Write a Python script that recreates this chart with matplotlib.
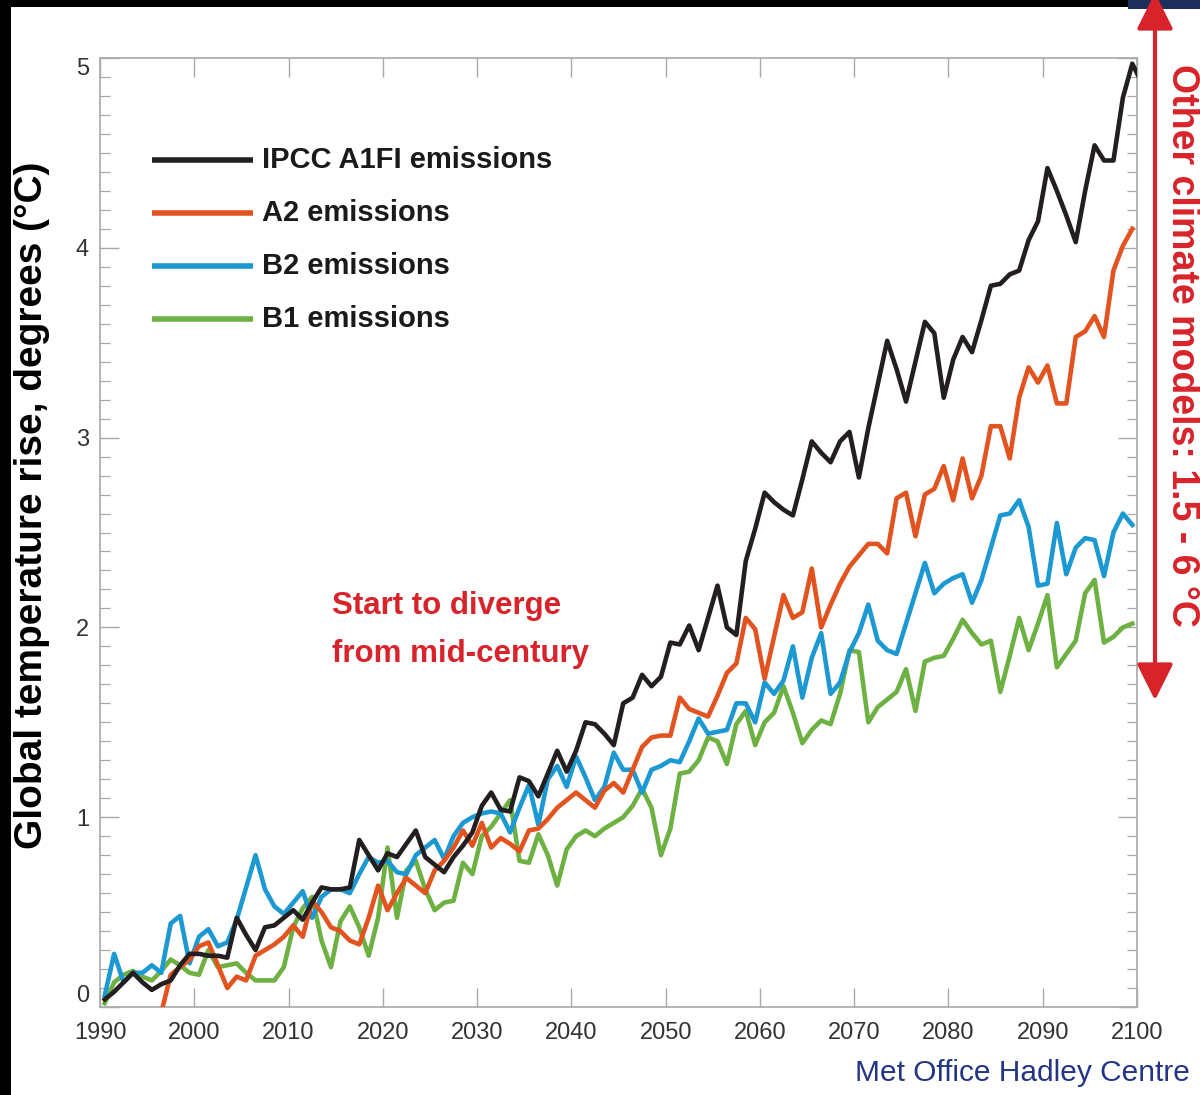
import numpy as np
import matplotlib
matplotlib.use("Agg")
import matplotlib.pyplot as plt
from matplotlib.patches import Rectangle, FancyArrowPatch

# Annual global temperature rise (deg C) for each emissions scenario
years = list(range(1990, 2101))

a1fi = [0.04, 0.08, 0.13, 0.18, 0.13, 0.09, 0.12, 0.14, 0.22, 0.28,
        0.28, 0.27, 0.27, 0.26, 0.47, 0.38, 0.30, 0.42, 0.43, 0.47,
        0.51, 0.46, 0.55, 0.63, 0.62, 0.62, 0.63, 0.88, 0.80, 0.72,
        0.81, 0.79, 0.86, 0.93, 0.79, 0.75, 0.71, 0.79, 0.85, 0.92,
        1.06, 1.13, 1.04, 1.03, 1.21, 1.19, 1.11, 1.23, 1.35, 1.24,
        1.35, 1.50, 1.49, 1.44, 1.38, 1.60, 1.63, 1.75, 1.69, 1.74,
        1.92, 1.91, 2.01, 1.88, 2.05, 2.22, 2.00, 1.96, 2.35, 2.52,
        2.71, 2.66, 2.62, 2.59, 2.78, 2.98, 2.92, 2.87, 2.98, 3.03,
        2.79, 3.05, 3.28, 3.51, 3.36, 3.19, 3.40, 3.61, 3.55, 3.21,
        3.41, 3.53, 3.45, 3.62, 3.80, 3.81, 3.86, 3.88, 4.04, 4.14,
        4.42, 4.30, 4.17, 4.03, 4.30, 4.54, 4.46, 4.46, 4.79, 4.97,
        4.87]

# A2 run enters the plotted range in 1996
a2_years = list(range(1996, 2100))
a2 = [-0.03, 0.17, 0.21, 0.25, 0.32, 0.34, 0.22, 0.10, 0.16, 0.14,
      0.27, 0.30, 0.33, 0.37, 0.43, 0.37, 0.56, 0.50, 0.42, 0.40,
      0.35, 0.33, 0.47, 0.64, 0.51, 0.60, 0.68, 0.64, 0.60, 0.72,
      0.77, 0.84, 0.93, 0.85, 0.97, 0.84, 0.89, 0.86, 0.82, 0.93,
      0.94, 0.99, 1.05, 1.09, 1.13, 1.09, 1.05, 1.14, 1.18, 1.13,
      1.25, 1.37, 1.42, 1.43, 1.43, 1.63, 1.57, 1.55, 1.53, 1.64,
      1.76, 1.81, 2.05, 1.99, 1.73, 1.95, 2.17, 2.05, 2.08, 2.31,
      2.00, 2.12, 2.23, 2.32, 2.38, 2.44, 2.44, 2.39, 2.68, 2.71,
      2.48, 2.70, 2.73, 2.85, 2.67, 2.89, 2.68, 2.80, 3.06, 3.06,
      2.89, 3.21, 3.37, 3.29, 3.38, 3.18, 3.18, 3.53, 3.56, 3.64,
      3.53, 3.88, 4.01, 4.10]

b_years = list(range(1990, 2100))
b2 = [0.06, 0.28, 0.13, 0.18, 0.18, 0.22, 0.18, 0.44, 0.48, 0.23,
      0.37, 0.41, 0.32, 0.34, 0.46, 0.63, 0.80, 0.62, 0.53, 0.49,
      0.55, 0.61, 0.47, 0.58, 0.62, 0.62, 0.60, 0.70, 0.79, 0.76,
      0.77, 0.71, 0.70, 0.80, 0.84, 0.88, 0.78, 0.90, 0.97, 1.00,
      1.02, 1.03, 1.02, 0.92, 1.05, 1.17, 0.96, 1.20, 1.27, 1.16,
      1.32, 1.21, 1.09, 1.16, 1.34, 1.25, 1.25, 1.13, 1.25, 1.27,
      1.30, 1.29, 1.40, 1.52, 1.44, 1.45, 1.46, 1.60, 1.60, 1.50,
      1.71, 1.65, 1.72, 1.90, 1.63, 1.84, 1.97, 1.65, 1.71, 1.87,
      1.97, 2.12, 1.93, 1.88, 1.86, 2.02, 2.18, 2.34, 2.18, 2.23,
      2.26, 2.28, 2.13, 2.25, 2.42, 2.59, 2.60, 2.67, 2.53, 2.22,
      2.23, 2.55, 2.28, 2.42, 2.47, 2.46, 2.27, 2.50, 2.60, 2.54]

b1 = [0.02, 0.13, 0.17, 0.19, 0.16, 0.14, 0.19, 0.25, 0.22, 0.18,
      0.17, 0.30, 0.21, 0.22, 0.23, 0.18, 0.14, 0.14, 0.14, 0.21,
      0.42, 0.52, 0.58, 0.35, 0.21, 0.45, 0.53, 0.42, 0.27, 0.47,
      0.84, 0.47, 0.72, 0.77, 0.62, 0.51, 0.55, 0.56, 0.76, 0.70,
      0.90, 0.95, 1.02, 1.09, 0.77, 0.76, 0.91, 0.80, 0.64, 0.83,
      0.90, 0.93, 0.90, 0.94, 0.97, 1.00, 1.06, 1.15, 1.05, 0.80,
      0.94, 1.23, 1.24, 1.30, 1.42, 1.40, 1.28, 1.49, 1.56, 1.38,
      1.50, 1.55, 1.69, 1.55, 1.39, 1.46, 1.51, 1.49, 1.65, 1.88,
      1.87, 1.50, 1.58, 1.62, 1.66, 1.78, 1.56, 1.82, 1.84, 1.85,
      1.94, 2.04, 1.97, 1.91, 1.93, 1.66, 1.85, 2.05, 1.88, 2.02,
      2.17, 1.79, 1.86, 1.93, 2.18, 2.25, 1.92, 1.95, 2.00, 2.02]

series_labels = ["IPCC A1FI emissions", "A2 emissions", "B2 emissions", "B1 emissions"]
series_colors = ["#231f20", "#e2531f", "#1c98d2", "#6db143"]

xticks = list(range(1990, 2101, 10))
yticks = [0, 1, 2, 3, 4, 5]

RED = "#d8232a"
SANS = ["Liberation Sans", "DejaVu Sans"]

fig = plt.figure(figsize=(12, 10.95), dpi=100)
fig.patch.set_facecolor("white")

# dark frame strips along the top and left edges
fig.patches.append(Rectangle((0, 1 - 7 / 1095), 1, 7 / 1095, transform=fig.transFigure,
                             facecolor="black", edgecolor="none", zorder=0))
fig.patches.append(Rectangle((0, 0), 11 / 1200, 1, transform=fig.transFigure,
                             facecolor="black", edgecolor="none", zorder=0))
fig.patches.append(Rectangle((1128 / 1200, 1 - 9 / 1095), 72 / 1200, 9 / 1095,
                             transform=fig.transFigure, facecolor="#1d2f5a",
                             edgecolor="none", zorder=0))

ax = fig.add_axes([100 / 1200, (1095 - 1007) / 1095, 1037 / 1200, (1007 - 58) / 1095])

# annual means plotted at mid-year
offset = 0.5
lw = 3.3
ax.plot(np.array(b_years) + offset, b1, color=series_colors[3], lw=lw, zorder=2)
ax.plot(np.array(b_years) + offset, b2, color=series_colors[2], lw=lw, zorder=3)
ax.plot(np.array(a2_years) + offset, a2, color=series_colors[1], lw=lw, zorder=4)
ax.plot(np.array(years) + offset, a1fi, color=series_colors[0], lw=lw, zorder=5)

ax.set_xlim(1990, 2100)
ax.set_ylim(0, 5)
ax.set_xticks(xticks)
ax.set_yticks(yticks)
ax.set_yticks(np.arange(0, 5.01, 0.1), minor=True)
frame = "#a8a8a8"
for s in ax.spines.values():
    s.set_color(frame)
    s.set_linewidth(1.2)
ax.tick_params(axis="both", which="major", direction="in", length=14, width=1.0,
               color=frame, top=True, right=True, labelsize=17, labelcolor="#333333")
ax.tick_params(axis="y", which="minor", direction="in", length=7, width=0.9,
               color=frame, left=True, right=True)
ax.tick_params(axis="x", which="major", pad=11)
ax.tick_params(axis="y", which="major", pad=8)
for lab in ax.get_xticklabels() + ax.get_yticklabels():
    lab.set_fontfamily(SANS)
ylabs = ax.get_yticklabels()
ylabs[0].set_verticalalignment("bottom")
ylabs[-1].set_verticalalignment("top")

fig.text(32 / 1200, 1 - 505 / 1095, "Global temperature rise, degrees (\u00b0C)", rotation=90,
         fontsize=28, fontweight="bold", family=SANS, color="black", ha="center", va="center")

# legend drawn as line samples with labels
legend_y = [4.463, 4.183, 3.904, 3.625]
for lbl, col, yy in zip(series_labels, series_colors, legend_y):
    ax.plot([1995.5, 2006.2], [yy, yy], color=col, lw=4.0, solid_capstyle="butt",
            clip_on=False, zorder=6)
    ax.text(2007.2, yy, lbl, fontsize=21, fontweight="bold", family=SANS,
            color="#1a1a1a", va="center", ha="left", zorder=6)

ax.text(2014.6, 1.986, "Start to diverge\nfrom mid-century", fontsize=22.5, fontweight="bold",
        family=SANS, color=RED, va="center", ha="left", linespacing=1.75)

# range of other climate models on the right margin
arrow = FancyArrowPatch((1155 / 1200, 1 + 10 / 1095), (1155 / 1200, 1 - 703 / 1095),
                        transform=fig.transFigure, arrowstyle="<|-|>,head_length=14,head_width=7",
                        mutation_scale=1.6, color=RED, lw=3.0)
fig.patches.append(arrow)
fig.text(1182 / 1200, 1 - 345 / 1095, "Other climate models: 1.5 - 6 \u00b0C", rotation=-90,
         fontsize=27, fontweight="bold", family=SANS, color=RED, ha="center", va="center")

fig.text(1190 / 1200, 1 - 1073 / 1095, "Met Office Hadley Centre", fontsize=21.5,
         family=SANS, color="#233584", ha="right", va="center")

fig.savefig("out.png", dpi=100, facecolor="white")
